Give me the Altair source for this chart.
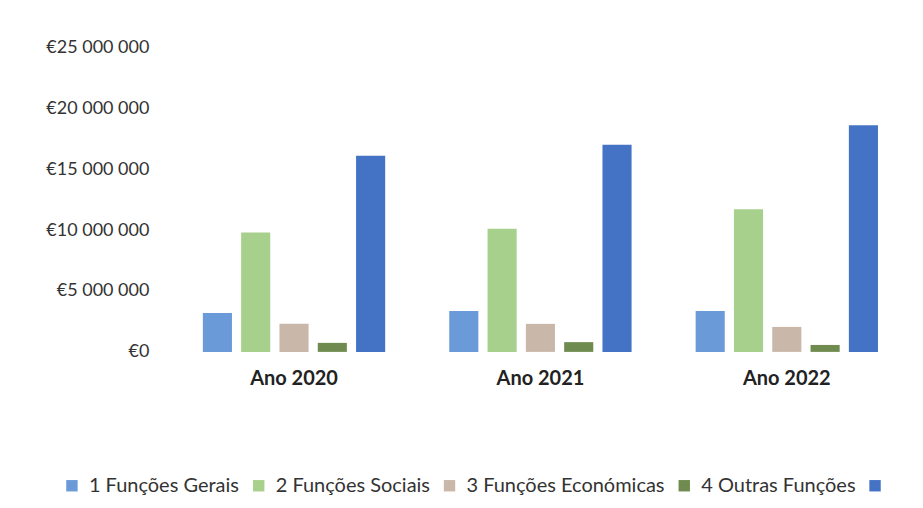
import altair as alt
import pandas as pd

years = ["Ano 2020", "Ano 2021", "Ano 2022"]
series = ["1 Funções Gerais", "2 Funções Sociais", "3 Funções Económicas", "4 Outras Funções", "Total"]
colors = ["#6A9BD8", "#A8D08D", "#C9B8AA", "#6F8B50", "#4472C4"]
v_gerais = [3200000, 3350000, 3350000]
v_sociais = [9800000, 10100000, 11700000]
v_economicas = [2300000, 2300000, 2050000]
v_outras = [740000, 800000, 570000]
v_total = [16100000, 17000000, 18600000]

vals = [v_gerais, v_sociais, v_economicas, v_outras, v_total]
rows = []
for s, vs in zip(series, vals):
    for y, v in zip(years, vs):
        rows.append({"ano": y, "serie": s, "valor": v})
df = pd.DataFrame(rows)

font = "Lato"

chart = alt.Chart(df).mark_bar().encode(
    x=alt.X("ano:N", sort=years, title=None,
            scale=alt.Scale(paddingInner=0.26, paddingOuter=0.13),
            axis=alt.Axis(labelAngle=0, labelFontWeight="bold", labelFontSize=20,
                          labelColor="#222222", labelPadding=17, ticks=False,
                          domain=False, labelFont=font)),
    xOffset=alt.XOffset("serie:N", sort=series, scale=alt.Scale(paddingInner=0.24)),
    y=alt.Y("valor:Q", title=None,
            scale=alt.Scale(domain=[0, 25000000]),
            axis=alt.Axis(values=[0, 5000000, 10000000, 15000000, 20000000, 25000000],
                          labelExpr="datum.value == 0 ? '€0' : '€' + replace(format(datum.value, ',.0f'), /,/g, ' ')",
                          labelFontSize=18, labelColor="#333333", labelPadding=22,
                          ticks=False, domain=False, grid=False, labelFont=font,
                          minExtent=158, maxExtent=158)),
    color=alt.Color("serie:N", sort=series,
                    scale=alt.Scale(domain=series, range=colors),
                    legend=alt.Legend(title=None, orient="none", direction="horizontal",
                                      legendX=-109, legendY=429,
                                      symbolType="square", symbolSize=130,
                                      symbolStrokeWidth=0,
                                      labelFontSize=20, labelFont=font, labelColor="#333333",
                                      labelLimit=400,
                                      labelOffset=7, columnPadding=9,
                                      labelExpr="datum.label == 'Total' ? '' : datum.label")),
).properties(
    width=740, height=305, background="white",
    padding={"left": 5, "top": 30, "right": 5, "bottom": 5}
).configure_view(strokeWidth=0)

chart.save("out.html", embed_options={"renderer": "svg", "actions": False})
